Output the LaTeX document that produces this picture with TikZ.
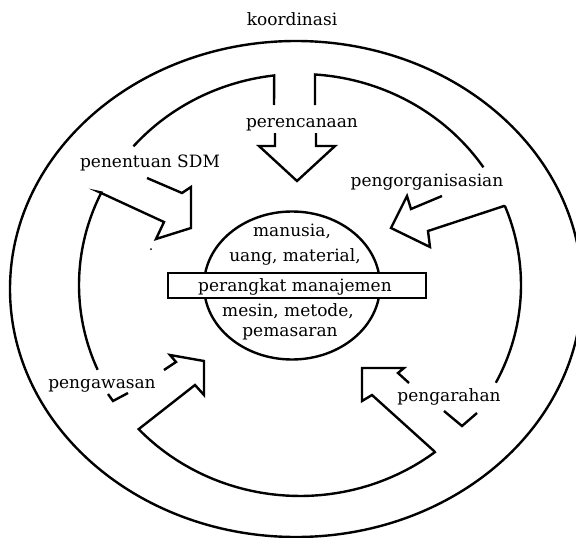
\documentclass[tikz,border=0pt]{standalone}
\usepackage{fontspec}
\setmainfont{DejaVu Serif}
\begin{document}
\begin{tikzpicture}[x=1pt,y=-1pt, line width=2.4pt, line join=miter, line cap=butt,
  lbl/.style={font=\fontsize{17}{19}\selectfont, inner sep=0pt, anchor=base},
  ring/.style={domain=#1, samples=40, variable=\t}]
\useasboundingbox (0,0) rectangle (576,538);
\clip (0,0) rectangle (576,538);
% outer ellipse
\draw (296,289) ellipse [x radius=286pt, y radius=248pt];
% penentuan SDM arrow + left ring segment
\draw (147,178) -- (182,193) -- (191,187) -- (191,228) -- (156,239) -- (164,222) -- (99,192)
  -- plot[ring=206:156.3] ({300+221*cos(\t)},{285+211*sin(\t)});
% top-left ring segment + perencanaan shaft left
\draw plot[ring=221.1:263.3] ({300+221*cos(\t)},{285+211*sin(\t)}) -- (274,105);
% top-right ring segment + perencanaan shaft right
\draw (315,105) -- plot[ring=273.9:326.1] ({300+221*cos(\t)},{285+211*sin(\t)});
% pengorganisasian arrow + right ring segment
\draw (442,196) -- (411,209) -- (407,196) -- (391,228) -- (430,247) -- (428,231) -- (504,206)
  -- plot[ring=338.2:387.6] ({300+221*cos(\t)},{285+211*sin(\t)});
% pengarahan arrow + bottom ring + pengawasan arrow
\draw (409,383) -- (398,373) -- (404,368) -- (362,368) -- (362,401) -- (372,395) -- (434,451)
  -- plot[ring=52.4:136.9] ({300+221*cos(\t)},{285+211*sin(\t)})
  -- (195,385) -- (204,395) -- (204,361) -- (170,355) -- (176,362) -- (164,370);
% remnants below labels
\draw (444,411) -- (462,426) -- (477,413);
\draw (108,394) -- (113,401) -- (128,393);
% perencanaan arrow head
\draw (275,133) -- (275,146) -- (259,146) -- (297,181) -- (335,146) -- (316,146) -- (316,133);
% stray dot
\fill (151,249) circle [radius=1pt];
% central circle and bar
\draw (292,285.5) ellipse [x radius=88pt, y radius=74pt];
\draw[fill=white] (168,273) rectangle (426,298);
% labels
\node[lbl] (koor) at (292,25) {koordinasi};
\node[lbl] (renc) at (302,127) {perencanaan};
\node[lbl] (sdm) at (150,167) {penentuan SDM};
\node[lbl] (org) at (427,186) {pengorganisasian};
\node[lbl] (awas) at (102,388) {pengawasan};
\node[lbl] (arah) at (449,401) {pengarahan};
\node[lbl] (man) at (292,236) {manusia,};
\node[lbl] (uang) at (295,261) {uang, material,};
\node[lbl] (per) at (295,291) {perangkat manajemen};
\node[lbl] (mes) at (288,316) {mesin, metode,};
\node[lbl] (pem) at (290,336) {pemasaran};
\end{tikzpicture}
\end{document}
